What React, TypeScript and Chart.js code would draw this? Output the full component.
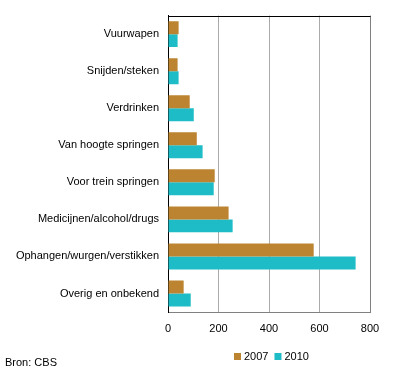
import React, { useEffect, useRef } from "react";
import { Chart, registerables } from "chart.js";

Chart.register(...registerables);

const categories = [
  "Vuurwapen",
  "Snijden/steken",
  "Verdrinken",
  "Van hoogte springen",
  "Voor trein springen",
  "Medicijnen/alcohol/drugs",
  "Ophangen/wurgen/verstikken",
  "Overig en onbekend",
];
const values2007 = [42, 38, 86, 114, 185, 240, 577, 62];
const values2010 = [38, 42, 102, 137, 181, 256, 743, 90];
const seriesLabels = ["2007", "2010"];
const seriesColors = ["#BC8431", "#1DBCC6"];
const xTicks = [0, 200, 400, 600, 800];
const sourceText = "Bron: CBS";

const FONT = "'Liberation Sans', Arial, sans-serif";

export default function App() {
  const ref = useRef<HTMLCanvasElement | null>(null);

  useEffect(() => {
    document.body.style.margin = "0";
    const canvas = ref.current;
    if (!canvas) return;

    const extras = {
      id: "extras",
      afterDraw(chart: any) {
        const ctx = chart.ctx;
        const area = chart.chartArea;
        ctx.save();
        // top border
        ctx.strokeStyle = "#000";
        ctx.lineWidth = 1;
        ctx.beginPath();
        ctx.moveTo(area.left, Math.round(area.top) + 0.5);
        ctx.lineTo(area.right + 0.5, Math.round(area.top) + 0.5);
        ctx.stroke();
        // legend
        ctx.font = `11px ${FONT}`;
        ctx.textBaseline = "middle";
        ctx.textAlign = "left";
        let x = 234;
        const y = 356.5;
        chart.data.datasets.forEach((ds: any) => {
          ctx.fillStyle = ds.backgroundColor;
          ctx.fillRect(x, y - 3.5, 7, 7);
          ctx.fillStyle = "#000";
          ctx.fillText(ds.label, x + 10, y);
          x += 10 + ctx.measureText(ds.label).width + 6;
        });
        // source
        ctx.fillStyle = "#000";
        ctx.fillText(sourceText, 5, 362.5);
        ctx.restore();
      },
    };

    const chart = new Chart(canvas, {
      type: "bar",
      data: {
        labels: categories,
        datasets: [
          {
            label: seriesLabels[0],
            data: values2007,
            backgroundColor: seriesColors[0],
            categoryPercentage: 0.7,
            barPercentage: 1.0,
          },
          {
            label: seriesLabels[1],
            data: values2010,
            backgroundColor: seriesColors[1],
            categoryPercentage: 0.7,
            barPercentage: 1.0,
          },
        ],
      },
      options: {
        indexAxis: "y",
        animation: false,
        responsive: false,
        maintainAspectRatio: false,
        layout: { padding: { top: 15, right: 26, left: 0, bottom: 0 } },
        plugins: {
          legend: { display: false },
          tooltip: { enabled: false },
        },
        scales: {
          x: {
            min: 0,
            max: 800,
            afterBuildTicks: (scale: any) => {
              scale.ticks = xTicks.map((v) => ({ value: v }));
            },
            afterFit: (scale: any) => {
              scale.height = 65;
            },
            grid: {
              drawTicks: false,
              color: (c: any) =>
                c.tick && c.tick.value === 0
                  ? "#000"
                  : c.tick && c.tick.value === 800
                  ? "#808080"
                  : "#AAAAAA",
              lineWidth: 1,
            },
            border: { display: true, color: "#808080" },
            ticks: {
              color: "#000",
              padding: 10,
              font: { family: FONT, size: 11 },
              maxRotation: 0,
            },
          },
          y: {
            afterFit: (scale: any) => {
              scale.width = 168;
            },
            grid: { display: false, drawTicks: false },
            border: { display: true, color: "#000" },
            ticks: {
              color: "#000",
              padding: 9,
              font: { family: FONT, size: 11 },
            },
          },
        },
      },
      plugins: [extras],
    });

    return () => chart.destroy();
  }, []);

  return <canvas ref={ref} width={396} height={377} style={{ display: "block" }} />;
}
